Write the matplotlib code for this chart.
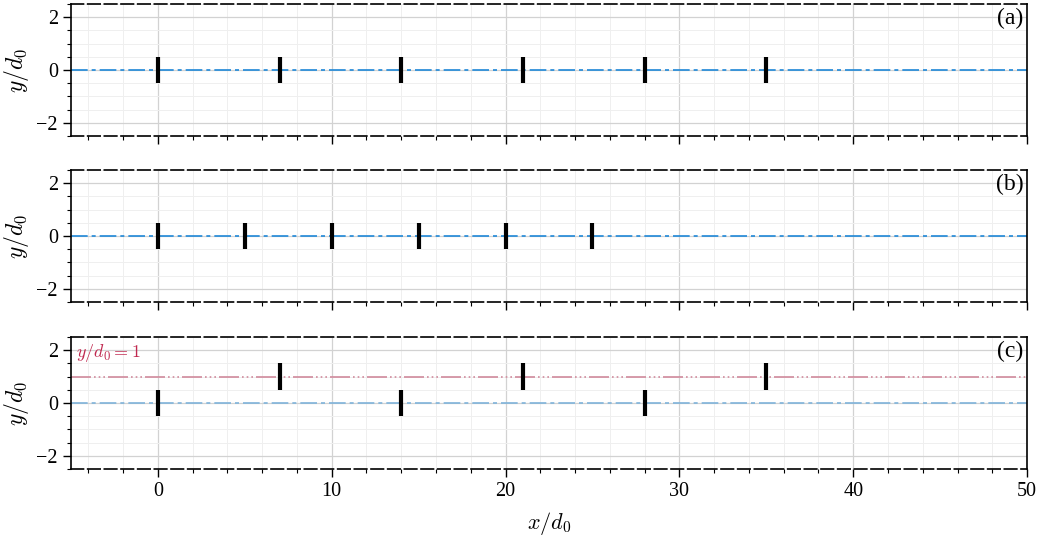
import numpy as np
import matplotlib
matplotlib.use("Agg")
import matplotlib.pyplot as plt
from matplotlib.ticker import MultipleLocator

plt.rcParams["font.family"] = ["Liberation Serif", "DejaVu Serif"]
plt.rcParams["mathtext.fontset"] = "cm"
plt.rcParams["axes.unicode_minus"] = True

# Turbine layouts (positions in rotor diameters)
x_aligned = [0, 7, 14, 21, 28, 35]
y_aligned = [0, 0, 0, 0, 0, 0]
x_tight = [0, 5, 10, 15, 20, 25]
y_tight = [0, 0, 0, 0, 0, 0]
x_staggered = [0, 7, 14, 21, 28, 35]
y_staggered = [0, 1, 0, 1, 0, 1]
rotor_d = 1.0
panel_labels = ["(a)", "(b)", "(c)"]

xlim = (-5, 50)
ylim = (-2.5, 2.5)

blue = "#1f88d8"
blue_light = "#7fb3da"
crimson = "#c0284f"
crimson_light = "#d08a9c"

fig = plt.figure(figsize=(10.39, 5.36), dpi=100)
left, width = 0.0683, 0.9202
bottoms = [0.7463, 0.4366, 0.125]
height = 0.2462

layouts = [(x_aligned, y_aligned), (x_tight, y_tight), (x_staggered, y_staggered)]
axes = []
for i, (xs, ys) in enumerate(layouts):
    ax = fig.add_axes([left, bottoms[i], width, height])
    axes.append(ax)
    ax.set_xlim(*xlim)
    ax.set_ylim(*ylim)
    ax.xaxis.set_major_locator(MultipleLocator(10))
    ax.xaxis.set_minor_locator(MultipleLocator(2))
    ax.yaxis.set_major_locator(MultipleLocator(2))
    ax.yaxis.set_minor_locator(MultipleLocator(0.5))
    ax.grid(which="major", color="#d2d2d2", lw=0.9, zorder=0)
    ax.grid(which="minor", color="#efefef", lw=0.7, zorder=0)
    ax.tick_params(which="major", direction="out", length=6, width=1.0,
                   labelsize=14.5, top=False, right=False)
    ax.tick_params(which="minor", direction="out", length=3, width=0.8,
                   top=False, right=False)
    for side in ("top", "bottom"):
        ax.spines[side].set_linestyle((0, (7.5, 2.5)))
        ax.spines[side].set_linewidth(1.2)
    for side in ("left", "right"):
        ax.spines[side].set_linewidth(1.2)

    xs = np.asarray(xs, dtype=float)
    ys = np.asarray(ys, dtype=float)
    ax.axhline(0, color=blue_light if i == 2 else blue, lw=1.2,
               linestyle=(0, (10, 2.4, 2.4, 2.4)), zorder=2)
    if i == 2:
        ax.axhline(1, color=crimson_light, lw=1.2,
                   linestyle=(0, (12, 1.8, 1, 1.8, 1, 1.8, 1, 1.8)), zorder=2)
        ax.text(-4.7, 1.9, r"$y/d_0 = 1$", color=crimson, fontsize=13,
                ha="left", va="center")
    ax.vlines(xs, ys - rotor_d / 2, ys + rotor_d / 2, color="black",
              lw=3.0, zorder=3)
    ax.text(0.996, 0.97, panel_labels[i], transform=ax.transAxes,
            ha="right", va="top", fontsize=17)
    ax.set_ylabel(r"$y/d_0$", fontsize=17, labelpad=4)
    if i < 2:
        ax.tick_params(labelbottom=False)

axes[-1].set_xlabel(r"$x/d_0$", fontsize=16, labelpad=6)

fig.savefig("out.png", dpi=100)
